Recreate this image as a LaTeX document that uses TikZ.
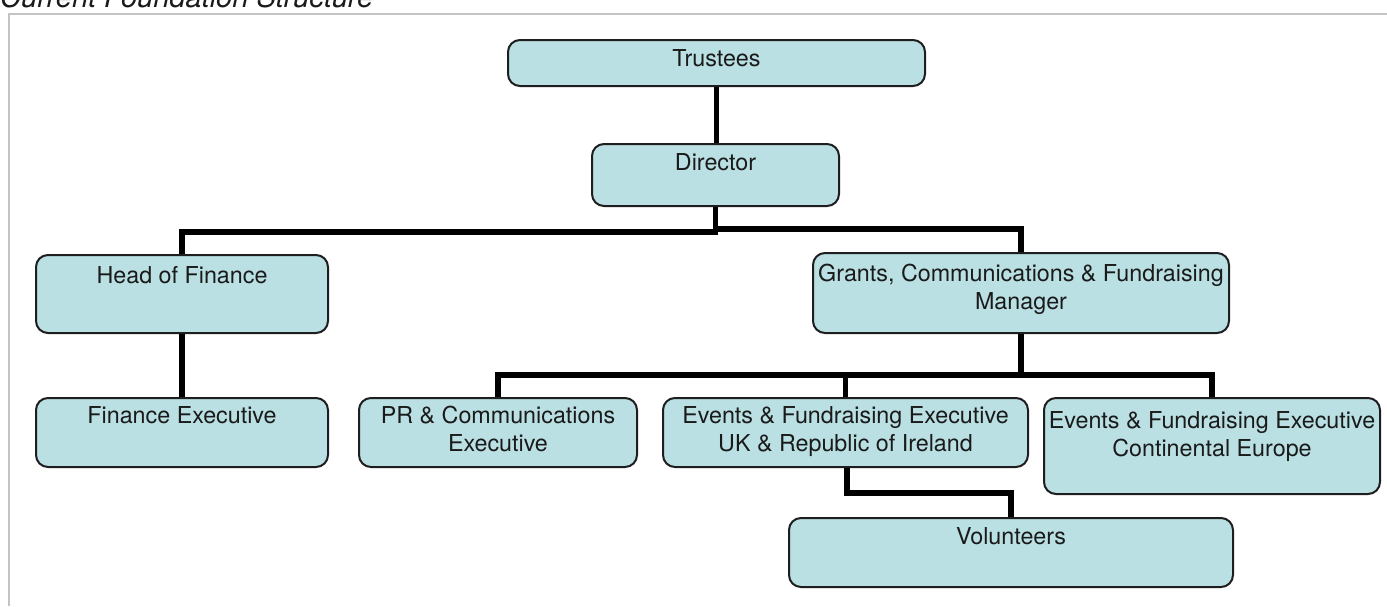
\documentclass[tikz,border=0pt]{standalone}
\usepackage{fontspec}
\setmainfont{TeX Gyre Heros}
\usetikzlibrary{fit}
\definecolor{boxfill}{HTML}{BAE0E3}
\definecolor{boxline}{HTML}{1E1E1E}
\definecolor{framegrey}{HTML}{C4C4C4}
\definecolor{txtcol}{HTML}{1A1A1A}
\tikzset{
  box/.style={draw=boxline, fill=boxfill, line width=2pt, rounded corners=12pt, inner sep=0pt},
  txt/.style={anchor=north, inner sep=0pt, align=center, text=txtcol,
    font=\fontsize{23.3}{28}\selectfont},
  conn/.style={draw=black, line width=5.5pt},
}
\begin{document}
\begin{tikzpicture}[x=1pt,y=-1pt]
\useasboundingbox (0,0) rectangle (1387,606);
% frame and title
\draw[framegrey, line width=2.5pt] (9,606) -- (9,14) -- (1387,14);
\node[anchor=base west, inner sep=0pt, text=txtcol, font=\fontsize{29}{34}\selectfont\itshape] (title) at (0,7) {Current Foundation Structure};
\coordinate (jl) at (716,232);
\coordinate (jr) at (716,229);
\coordinate (jm) at (1021,375);
\coordinate (jv) at (847,493);
% boxes
\node[box, fit={(508,40) (925,86)}] (tru) {};
\node[box, fit={(592,144) (839,206)}] (dir) {};
\node[box, fit={(36,255) (328,333)}] (hof) {};
\node[box, fit={(813,253) (1229,333)}] (gcf) {};
\node[box, fit={(36,398) (328,467)}] (fex) {};
\node[box, fit={(359,398) (637,467)}] (prc) {};
\node[box, fit={(663,398) (1028,467)}] (euk) {};
\node[box, fit={(1044,398) (1380,494)}] (ece) {};
\node[box, fit={(789,518) (1233,587)}] (vol) {};
% texts
\node[txt] at ([yshift=-10pt]tru.north) {Trustees};
\node[txt] at ([yshift=-10pt]dir.north) {Director};
\node[txt] at ([yshift=-12pt]hof.north) {Head of Finance};
\node[txt] at ([yshift=-12pt]gcf.north) {Grants, Communications \& Fundraising\\Manager};
\node[txt] at ([yshift=-9pt]fex.north) {Finance Executive};
\node[txt] at ([yshift=-9pt]prc.north) {PR \& Communications\\Executive};
\node[txt] at ([yshift=-9pt]euk.north) {Events \& Fundraising Executive\\UK \& Republic of Ireland};
\node[txt] at ([yshift=-14pt]ece.north) {Events \& Fundraising Executive\\Continental Europe};
\node[txt] at ([yshift=-10pt]vol.north) {Volunteers};
% connectors
\draw[conn] (tru.south) -- (tru.south |- dir.north);
\draw[conn] (dir.south) -- (dir.south |- jl) -| (hof.north);
\draw[conn] (dir.south |- jr) -| (gcf.north);
\draw[conn] (hof.south) -- (hof.south |- fex.north);
\draw[conn] (gcf.south) -- (gcf.south |- jm);
\draw[conn] (prc.north) |- (jm) -| (ece.north);
\draw[conn] (euk.north) -- (euk.north |- jm);
\draw[conn] (euk.south -| jv) -- (jv) -| (vol.north);
\end{tikzpicture}
\end{document}
